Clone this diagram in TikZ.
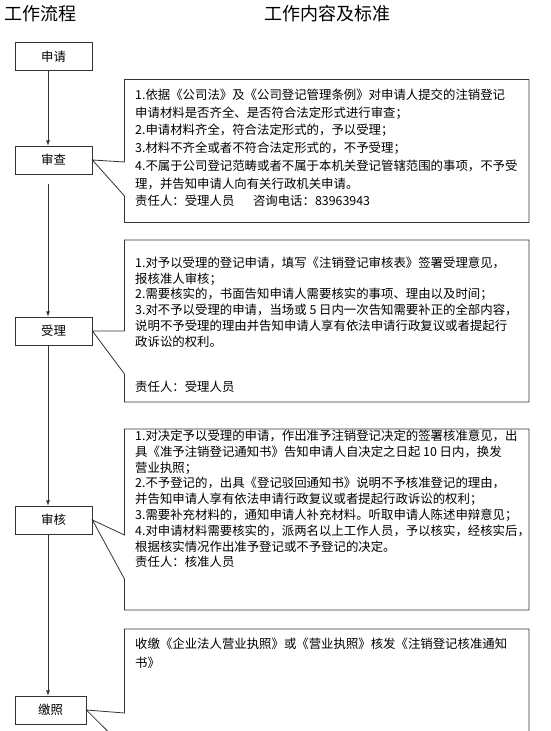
\documentclass[tikz,border=0pt]{standalone}
\usepackage{fontspec}
\setmainfont{Noto Sans CJK SC}
\usepackage{tikz}
\colorlet{linegray}{black!80}

\begin{document}
\begin{tikzpicture}[x=1pt,y=-1pt,
    flowbox/.style={draw=linegray, line width=0.8pt, minimum width=77pt, minimum height=28pt, inner sep=0pt, font=\fontsize{12.4}{14}\selectfont},
    callout/.style={draw=linegray, line width=0.8pt, line join=miter},
    flow/.style={draw=linegray, line width=0.8pt, -latex},
    notetext/.style={anchor=north west, align=left, inner sep=0pt}]
    \useasboundingbox (0,0) rectangle (550,731);
    \clip (0,0) rectangle (550,731);
    % titles
    \node (lefttitle) at (41,14) {\fontsize{18}{20}\selectfont 工作流程};
    \node (righttitle) at (327,14) {\fontsize{18}{20}\selectfont 工作内容及标准};
    % flow steps
    \node (shenqing) at (53.5,56.5) [flowbox] {申请};
    \node (shencha) at (53.5,160) [flowbox] {审查};
    \node (shouli) at (53.5,331) [flowbox] {受理};
    \node (shenhe) at (53.5,520) [flowbox] {审核};
    \node (jiaozhao) at (50.5,710) [flowbox, minimum width=71pt] {缴照};
    \draw[flow] ([xshift=-5.5pt]shenqing.south) -- ([xshift=-5.5pt]shencha.north);
    \draw[flow] ([xshift=-5.5pt, yshift=-10pt]shencha.south) -- ([xshift=-5.5pt]shouli.north);
    \draw[flow] ([xshift=-5.5pt]shouli.south) -- ([xshift=-5.5pt]shenhe.north);
    \draw[flow] ([xshift=-5.5pt]shenhe.south) -- ([xshift=-2.5pt]jiaozhao.north);
    % callouts
    \draw[callout] (124.5,79.5) -- (529,79.5) -- (529,222.5) -- (124.5,222.5) -- (124.5,196) -- (shencha.east) -- (124.5,162) -- cycle;
    \draw[callout] (124.5,240) -- (529,240) -- (529,402) -- (124.5,402) -- (124.5,374) -- (shouli.east) -- (124.5,331) -- cycle;
    \draw[callout] (124.5,429) -- (529,429) -- (529,610) -- (124.5,610) -- (124.5,579) -- (shenhe.east) -- (124.5,535) -- cycle;
    \draw[callout] (124.5,629) -- (529,629) -- (529,780) -- (124.5,780) -- (124.5,748) -- (jiaozhao.east) -- (124.5,713) -- cycle;
    % callout texts
    \node (note1) at (135,88.8) [notetext, font=\fontsize{12.4}{17.7}\selectfont] {%
        1.依据《公司法》及《公司登记管理条例》对申请人提交的注销登记\\
        申请材料是否齐全、是否符合法定形式进行审查；\\
        2.申请材料齐全，符合法定形式的，予以受理；\\
        3.材料不齐全或者不符合法定形式的，不予受理；\\
        4.不属于公司登记范畴或者不属于本机关登记管辖范围的事项，不予受\\
        理，并告知申请人向有关行政机关申请。\\
        责任人：受理人员\hspace{1.5em}咨询电话：83963943};
    \node (note2) at (135,256.8) [notetext, font=\fontsize{12.4}{15.7}\selectfont] {%
        1.对予以受理的登记申请，填写《注销登记审核表》签署受理意见，\\
        报核准人审核；\\
        2.需要核实的，书面告知申请人需要核实的事项、理由以及时间；\\
        3.对不予以受理的申请，当场或 5 日内一次告知需要补正的全部内容，\\
        说明不予受理的理由并告知申请人享有依法申请行政复议或者提起行\\
        政诉讼的权利。\\[30pt]
        责任人：受理人员};
    \node (note3) at (135,429.8) [notetext, font=\fontsize{12.4}{15.8}\selectfont] {%
        1.对决定予以受理的申请，作出准予注销登记决定的签署核准意见，出\\
        具《准予注销登记通知书》告知申请人自决定之日起 10 日内，换发\\
        营业执照；\\
        2.不予登记的，出具《登记驳回通知书》说明不予核准登记的理由，\\
        并告知申请人享有依法申请行政复议或者提起行政诉讼的权利；\\
        3.需要补充材料的，通知申请人补充材料。听取申请人陈述申辩意见；\\
        4.对申请材料需要核实的，派两名以上工作人员，予以核实，经核实后，\\
        根据核实情况作出准予登记或不予登记的决定。\\
        责任人：核准人员};
    \node (note4) at (135,637.8) [notetext, font=\fontsize{12.4}{19}\selectfont] {%
        收缴《企业法人营业执照》或《营业执照》核发《注销登记核准通知\\
        书》};
\end{tikzpicture}
\end{document}
